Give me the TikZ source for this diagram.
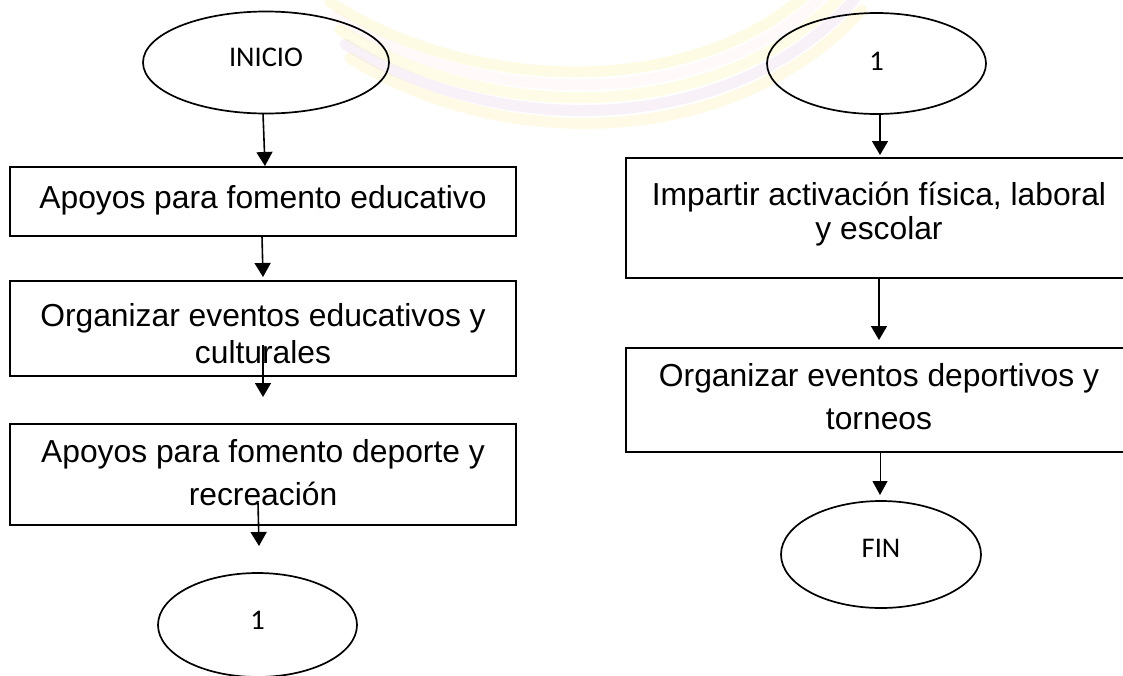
\documentclass[tikz,border=0pt]{standalone}
\usepackage{fontspec}
\setmainfont{Liberation Sans}
\newfontfamily\carlito{Carlito}
\usetikzlibrary{shapes.geometric,arrows.meta,calc}
\newcommand\bxt[4]{\parbox[c][#1pt][t]{506pt}{\fontsize{31.8pt}{#4pt}\selectfont\centering\rule{0pt}{#2pt}#3\par}}
\begin{document}
\begin{tikzpicture}[x=1pt,y=-1pt,
  flowbox/.style={draw, line width=1.5pt, inner sep=0pt, outer sep=0pt},
  term/.style={draw, ellipse, line width=1.7pt, inner sep=0pt, outer sep=0pt,
    font={\carlito\fontsize{28.5pt}{34pt}\selectfont}},
  arr/.style={line width=1.6pt, -{Triangle[width=16pt,length=14pt]}},
  thinarr/.style={line width=1pt, -{Triangle[width=15pt,length=14pt]}},
  wm/.style={line width=11pt, opacity=0.10, line cap=round}]
\useasboundingbox (0,0) rectangle (1123,675);
\fill[white] (0,0) rectangle (1123,675);
% faint watermark
\draw[wm, yellow!80!orange] (330,2) .. controls (480,100) and (720,100) .. (830,-30);
\draw[wm, pink!80] (335,16) .. controls (485,113) and (722,113) .. (838,-20);
\draw[wm, yellow!90!brown] (340,30) .. controls (490,126) and (725,126) .. (846,-10);
\draw[wm, violet!50] (345,44) .. controls (495,139) and (728,139) .. (854,0);
\draw[wm, yellow!70!orange] (350,58) .. controls (500,152) and (731,152) .. (862,10);
% terminals
\node[term, minimum width=246pt, minimum height=102pt, text depth=11pt] (e1) at (266,62.5) {INICIO};
\node[term, minimum width=199pt, minimum height=104pt, text depth=10pt] (e2) at (257.5,625) {1};
\node[term, minimum width=219pt, minimum height=101pt, text depth=5pt] (e3) at (876.5,63.5) {1};
\node[term, minimum width=200pt, minimum height=107pt, text depth=13pt] (e4) at (881,554.5) {FIN};
% process boxes
\node[flowbox] (b1) at (263,201.5) {\bxt{69}{41.5}{Apoyos para fomento educativo}{37}};
\node[flowbox] (b2) at (263,328.5) {\bxt{95}{45.5}{Organizar eventos educativos y\\culturales}{37}};
\node[flowbox] (b3) at (263,474.5) {\bxt{101}{38}{Apoyos para fomento deporte y\\recreación}{43}};
\node[flowbox] (b4) at (879,218) {\bxt{120}{47}{Impartir activación física, laboral\\y escolar}{34}};
\node[flowbox] (b5) at (879,400) {\bxt{104}{38.5}{Organizar eventos deportivos y\\torneos}{43}};
% connectors
\draw[arr] ($(e1.south)+(-3,0)$) -- ($(b1.north)+(2,-1)$);
\draw[arr] ($(b1.south)+(-1,0)$) -- ($(b2.north)+(0,-4)$);
\draw[arr] ($(b2.south)+(0,-31)$) -- ($(b3.north)+(0,-27)$);
\draw[arr] ($(b3.south)+(-5,-22)$) -- ($(e2.north)+(1.5,-27)$);
\draw[arr] ($(e3.south)+(3.5,0)$) -- ($(b4.north)+(1,-3)$);
\draw[arr] (b4.south) -- ($(b5.north)+(0,-8)$);
\draw[thinarr] ($(b5.south)+(1,0)$) -- ($(e4.north)+(-1,-6)$);
\end{tikzpicture}
\end{document}
